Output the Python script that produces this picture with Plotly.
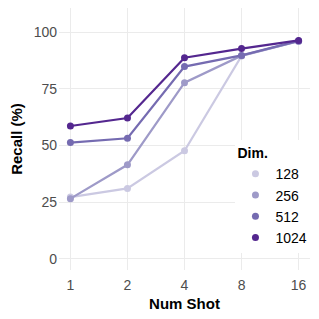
import plotly.graph_objects as go

shots = ["1", "2", "4", "8", "16"]
dims = ["128", "256", "512", "1024"]
recall_128 = [27.3, 31.1, 47.7, 89.5, 96.0]
recall_256 = [26.6, 41.5, 77.7, 89.6, 96.0]
recall_512 = [51.3, 53.2, 84.8, 89.7, 96.1]
recall_1024 = [58.6, 62.1, 88.7, 92.7, 96.3]
series = [recall_128, recall_256, recall_512, recall_1024]
colors = ["#CBC9E2", "#9E9AC8", "#756BB1", "#54278F"]

fig = go.Figure()
for name, vals, c in zip(dims, series, colors):
    fig.add_trace(go.Scatter(
        x=shots, y=vals, name=name, mode="lines+markers",
        line=dict(color=c, width=2.2),
        marker=dict(color=c, size=7),
        legendgroup=name, showlegend=False,
    ))
# legend entries: points only (as in the reference legend)
for name, c in zip(dims, colors):
    fig.add_trace(go.Scatter(
        x=[None], y=[None], name=name, mode="markers",
        marker=dict(color=c, size=7), legendgroup=name, showlegend=True,
    ))

font = "Liberation Sans, Arial, sans-serif"
# page body has an 8px default margin, so the figure is 311px and offset accordingly
fig.update_layout(
    width=311, height=311,
    margin=dict(l=50.5, r=8.5, t=0, b=49),
    plot_bgcolor="white", paper_bgcolor="white",
    font=dict(family=font, color="#000000"),
    legend=dict(
        title=dict(text="<b>Dim.</b>", font=dict(size=14, color="#000")),
        x=0.703, y=0.496, xanchor="left", yanchor="top",
        bgcolor="white", font=dict(size=14, color="#000"),
        tracegroupgap=0, itemwidth=30,
    ),
    xaxis=dict(
        type="category", range=[-0.2, 4.2], automargin=False,
        showgrid=True, gridcolor="#EBEBEB", gridwidth=1.2,
        zeroline=False, showline=False, ticks="",
        tickfont=dict(size=14, color="#4D4D4D"), ticklabelstandoff=5,
        title=dict(text="<b>Num Shot</b>", font=dict(size=15, color="#000"), standoff=6),
    ),
    yaxis=dict(
        range=[-4.85, 110.6], automargin=False,
        tickvals=[0, 25, 50, 75, 100],
        showgrid=True, gridcolor="#EBEBEB", gridwidth=1.2,
        zeroline=False, showline=False, ticks="",
        tickfont=dict(size=14, color="#4D4D4D"), ticklabelstandoff=1,
        title=dict(text="<b>Recall (%)</b>", font=dict(size=15, color="#000"), standoff=15),
    ),
)
fig.write_html("out.html")
